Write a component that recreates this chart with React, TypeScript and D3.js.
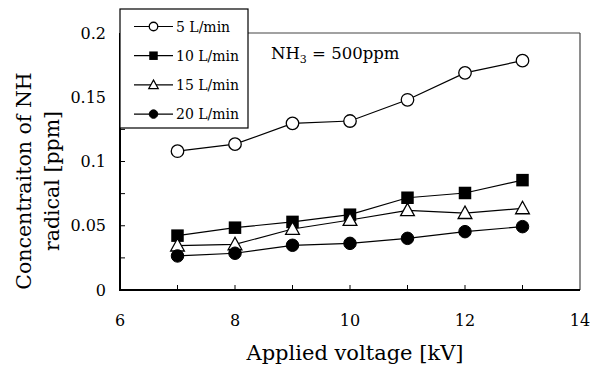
import React from "react";
import * as d3 from "d3";

const voltages = [7, 8, 9, 10, 11, 12, 13];
const flow5 = [0.108, 0.1135, 0.1297, 0.1315, 0.148, 0.169, 0.1785];
const flow10 = [0.0423, 0.0485, 0.053, 0.0586, 0.0718, 0.0755, 0.0855];
const flow15 = [0.0345, 0.0355, 0.0475, 0.0545, 0.062, 0.0598, 0.0635];
const flow20 = [0.0265, 0.0286, 0.0348, 0.0363, 0.0402, 0.0454, 0.0493];
const seriesNames = ["5 L/min", "10 L/min", "15 L/min", "20 L/min"];
const seriesMarkers = ["circleOpen", "square", "triangleOpen", "circle"];
const xTicks = [6, 8, 10, 12, 14];
const xMinorTicks = [7, 8, 9, 10, 11, 12, 13];
const yTicks = [0, 0.05, 0.1, 0.15, 0.2];
const yMinorTicks = [0.025, 0.05, 0.075, 0.1, 0.125, 0.15, 0.175];

const W = 590, H = 365;
const L = 120, R = 580, T = 33, B = 290;
const FONT = "'DejaVu Serif', serif";

function Marker({ type, x, y, s }: { type: string; x: number; y: number; s: number }) {
  if (type === "circleOpen") return <circle cx={x} cy={y} r={s * 0.5} fill="#fff" stroke="#000" strokeWidth={1.3} />;
  if (type === "circle") return <circle cx={x} cy={y} r={s * 0.5} fill="#000" stroke="#000" />;
  if (type === "square") return <rect x={x - s / 2} y={y - s / 2} width={s} height={s} fill="#000" />;
  const h = s * 0.95;
  const p = `${x},${y - h * 0.6} ${x + s * 0.55},${y + h * 0.45} ${x - s * 0.55},${y + h * 0.45}`;
  return <polygon points={p} fill="#fff" stroke="#000" strokeWidth={1.3} />;
}

export default function App() {
  const x = d3.scaleLinear().domain([6, 14]).range([L, R]);
  const y = d3.scaleLinear().domain([0, 0.2]).range([B, T]);
  const data = [flow5, flow10, flow15, flow20];
  const line = d3.line<[number, number]>().x(d => x(d[0])).y(d => y(d[1]));
  const fmt = (v: number) => (v === 0 ? "0" : String(v));
  return (
    <svg width={W} height={H} style={{ position: "absolute", left: 0, top: 0, background: "#fff" }} fontFamily={FONT}>
      {/* frame */}
      <line x1={L} x2={R} y1={T} y2={T} stroke="#444" strokeWidth={1.2} />
      <line x1={R} x2={R} y1={T} y2={B} stroke="#444" strokeWidth={1.2} />
      <line x1={L} x2={L} y1={T} y2={B + 1} stroke="#000" strokeWidth={2} />
      <line x1={L - 1} x2={R} y1={B} y2={B} stroke="#000" strokeWidth={2} />
      {xMinorTicks.map(t => (
        <line key={"xt" + t} x1={x(t)} x2={x(t)} y1={B} y2={B - 5} stroke="#000" strokeWidth={1} />
      ))}
      {yMinorTicks.map(t => (
        <line key={"yt" + t} x1={L} x2={L + 5} y1={y(t)} y2={y(t)} stroke="#000" strokeWidth={1} />
      ))}
      {xTicks.map(t => (
        <text key={"xl" + t} x={x(t)} y={326} textAnchor="middle" fontSize={16}>{t}</text>
      ))}
      {yTicks.map(t => (
        <text key={"yl" + t} x={106} y={y(t) + 5.5} textAnchor="end" fontSize={16}>{fmt(t)}</text>
      ))}
      <text x={355} y={360} textAnchor="middle" fontSize={21}>Applied voltage [kV]</text>
      <g transform="translate(24,181) rotate(-90)">
        <text x={0} y={7} textAnchor="middle" fontSize={20.5}>Concentraiton of NH</text>
        <text x={0} y={35} textAnchor="middle" fontSize={20.5}>radical [ppm]</text>
      </g>
      <text x={271} y={59} fontSize={16.5}>NH<tspan fontSize={11} dy={4}>3</tspan><tspan dy={-4}> = 500ppm</tspan></text>
      {data.map((vals, i) => (
        <g key={"s" + i}>
          <path d={line(voltages.map((v, j) => [v, vals[j]]) as [number, number][]) || ""} fill="none" stroke="#000" strokeWidth={1.2} />
          {voltages.map((v, j) => (
            <Marker key={j} type={seriesMarkers[i]} x={x(v)} y={y(vals[j])} s={12.5} />
          ))}
        </g>
      ))}
      {/* legend */}
      <rect x={120} y={9} width={128} height={119} fill="#fff" stroke="#000" strokeWidth={1.2} />
      {seriesNames.map((n, i) => {
        const ly = 26.5 + i * 29.2;
        return (
          <g key={"lg" + i}>
            <line x1={134} x2={173} y1={ly} y2={ly} stroke="#000" strokeWidth={1.2} />
            <Marker type={seriesMarkers[i]} x={153.5} y={ly} s={8.5} />
            <text x={176} y={ly + 5} fontSize={14}>{n}</text>
          </g>
        );
      })}
    </svg>
  );
}
